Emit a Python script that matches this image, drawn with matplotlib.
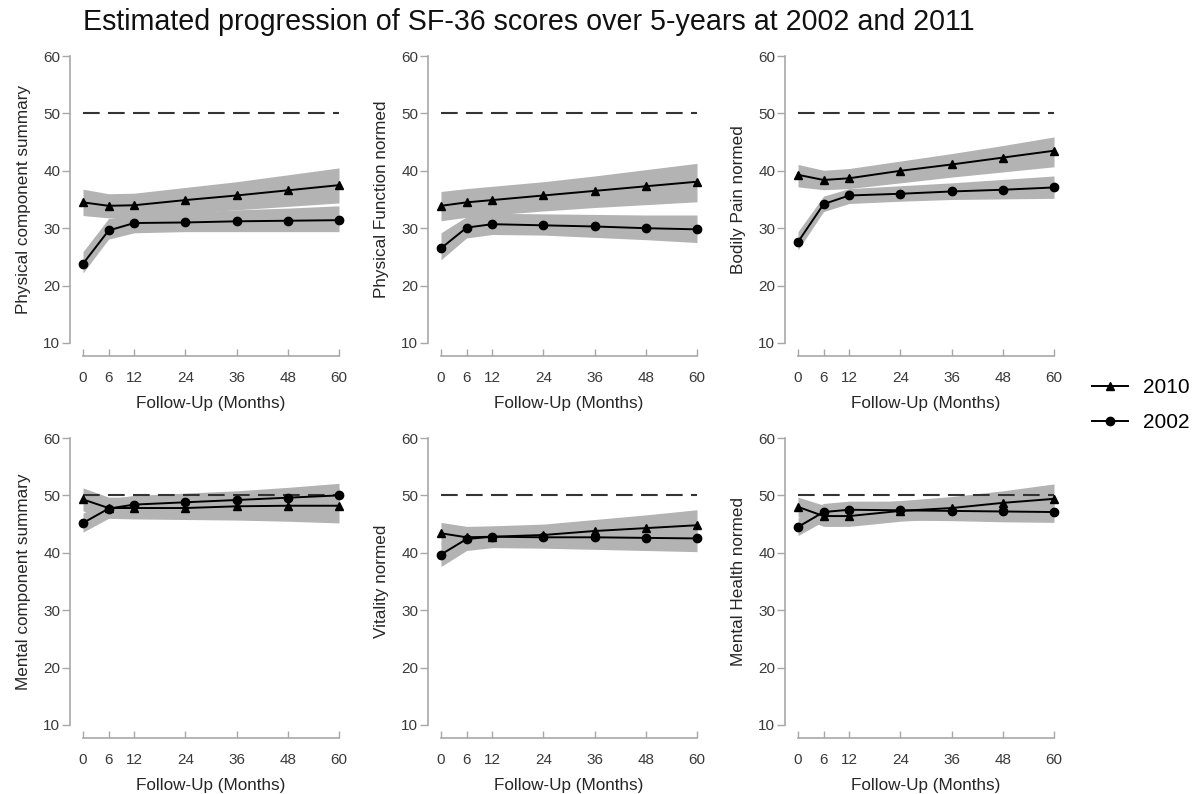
import matplotlib
matplotlib.use("Agg")
import matplotlib.pyplot as plt
from matplotlib.lines import Line2D

plt.rcParams['font.family'] = ['Liberation Sans', 'DejaVu Sans']

months = [0, 6, 12, 24, 36, 48, 60]
xticks = [0, 6, 12, 24, 36, 48, 60]
yticks = [10, 20, 30, 40, 50, 60]
norm_line = 50

titles = ["Physical component summary", "Physical Function normed", "Bodily Pain normed",
          "Mental component summary", "Vitality normed", "Mental Health normed"]

# 2010 cohort (triangles)
m2010 = [
    [34.5, 33.9, 34.0, 34.9, 35.7, 36.6, 37.5],
    [33.9, 34.5, 34.9, 35.7, 36.5, 37.3, 38.1],
    [39.3, 38.4, 38.7, 40.0, 41.1, 42.3, 43.5],
    [49.3, 47.8, 47.8, 47.8, 48.1, 48.2, 48.2],
    [43.4, 42.7, 42.8, 43.1, 43.8, 44.3, 44.8],
    [48.0, 46.4, 46.4, 47.3, 47.8, 48.7, 49.4],
]
lo2010 = [
    [32.2, 31.8, 31.9, 32.6, 33.2, 33.8, 34.4],
    [31.3, 31.9, 32.3, 33.0, 33.6, 34.1, 34.6],
    [37.2, 36.7, 36.9, 37.9, 38.9, 39.8, 40.7],
    [47.3, 46.0, 45.9, 45.8, 45.7, 45.5, 45.2],
    [41.4, 40.9, 41.0, 41.1, 41.5, 41.8, 42.1],
    [46.3, 44.6, 44.6, 45.5, 46.0, 46.6, 47.0],
]
hi2010 = [
    [36.8, 36.0, 36.1, 37.1, 38.1, 39.3, 40.5],
    [36.4, 36.9, 37.3, 38.1, 39.1, 40.2, 41.3],
    [41.1, 40.1, 40.4, 41.7, 43.0, 44.4, 45.9],
    [51.3, 49.7, 49.7, 49.9, 50.5, 50.9, 51.3],
    [45.3, 44.6, 44.7, 45.0, 45.8, 46.6, 47.5],
    [49.7, 48.3, 48.4, 49.1, 49.8, 50.8, 52.0],
]
# 2002 cohort (circles)
m2002 = [
    [23.8, 29.6, 30.9, 31.0, 31.2, 31.3, 31.4],
    [26.5, 30.1, 30.7, 30.5, 30.3, 30.0, 29.8],
    [27.6, 34.2, 35.7, 36.0, 36.4, 36.7, 37.1],
    [45.2, 47.7, 48.4, 48.8, 49.2, 49.6, 50.0],
    [39.7, 42.4, 42.8, 42.7, 42.7, 42.6, 42.5],
    [44.5, 47.1, 47.5, 47.4, 47.3, 47.2, 47.1],
]
lo2002 = [
    [22.2, 28.1, 29.2, 29.4, 29.4, 29.4, 29.4],
    [24.5, 28.3, 28.9, 28.8, 28.4, 28.0, 27.5],
    [26.2, 32.9, 34.3, 34.7, 35.0, 35.1, 35.2],
    [43.6, 46.0, 46.7, 47.0, 47.3, 47.6, 47.9],
    [37.6, 40.4, 40.9, 40.8, 40.6, 40.4, 40.2],
    [43.0, 45.5, 45.9, 45.7, 45.6, 45.4, 45.3],
]
hi2002 = [
    [25.9, 31.7, 32.3, 32.8, 33.2, 33.5, 33.9],
    [29.2, 32.0, 32.6, 32.5, 32.4, 32.3, 32.3],
    [29.4, 35.6, 36.9, 37.4, 37.9, 38.5, 39.1],
    [46.9, 49.4, 50.0, 50.4, 50.8, 51.4, 52.1],
    [41.8, 44.2, 44.6, 44.6, 44.7, 44.8, 44.9],
    [46.1, 48.6, 49.0, 49.0, 48.9, 48.9, 48.9],
]

W, H = 1199, 794
fig = plt.figure(figsize=(W / 100, H / 100), dpi=100)

col_left = [83, 441, 798]
col_w = 256
row_top = [56, 438]
row_h = 287

band_col = '#b3b3b3'
spine_col = '#a8a8a8'
txt_col = '#3a3a3a'

for i in range(6):
    r, c = divmod(i, 3)
    left = col_left[c] / W
    bottom = 1 - (row_top[r] + row_h) / H
    ax = fig.add_axes([left, bottom, col_w / W, row_h / H])
    ax.set_xlim(0, 60)
    ax.set_ylim(10, 60)
    ax.fill_between(months, lo2010[i], hi2010[i], color=band_col, lw=0, clip_on=False)
    ax.fill_between(months, lo2002[i], hi2002[i], color=band_col, lw=0, clip_on=False)
    ax.plot([0, 60], [norm_line, norm_line], color='#333333', lw=1.5,
            dashes=(8, 4), clip_on=False)
    ax.plot(months, m2010[i], color='black', lw=1.4, marker='^', ms=6, clip_on=False)
    ax.plot(months, m2002[i], color='black', lw=1.4, marker='o', ms=6, clip_on=False)

    for s in ['top', 'right']:
        ax.spines[s].set_visible(False)
    ax.spines['left'].set_position(('outward', 9.4))
    ax.spines['bottom'].set_position(('outward', 9.4))
    ax.spines['left'].set_bounds(10, 60)
    ax.spines['bottom'].set_bounds(0, 60)
    for s in ['left', 'bottom']:
        ax.spines[s].set_color(spine_col)
        ax.spines[s].set_linewidth(1.2)
    ax.set_xticks(xticks)
    ax.set_yticks(yticks)
    ax.tick_params(axis='y', direction='out', length=5.5, width=1, color=spine_col,
                   labelsize=11, labelcolor=txt_col, pad=1.5)
    ax.tick_params(axis='x', direction='in', length=5, width=1, color=spine_col,
                   labelsize=11, labelcolor=txt_col, pad=11)
    ax.set_xlabel("Follow-Up (Months)", fontsize=12.3, color='#262626', labelpad=8)
    ax.set_ylabel(titles[i], fontsize=12.3, color='#262626', labelpad=9)
    ax.patch.set_visible(False)

fig.text(83 / W, 1 - 22 / H, "Estimated progression of SF-36 scores over 5-years at 2002 and 2011",
         fontsize=20.6, color='#111111', ha='left', va='center')

handles = [Line2D([], [], color='black', lw=1.4, marker='^', ms=6),
           Line2D([], [], color='black', lw=1.4, marker='o', ms=6)]
fig.legend(handles, ['2010', '2002'], loc='center left',
           bbox_to_anchor=(1082 / W, 1 - 405 / H), frameon=False, fontsize=15,
           handlelength=1.7, handletextpad=0.75, labelspacing=0.75, borderpad=0)

fig.savefig("out.png", dpi=100)
